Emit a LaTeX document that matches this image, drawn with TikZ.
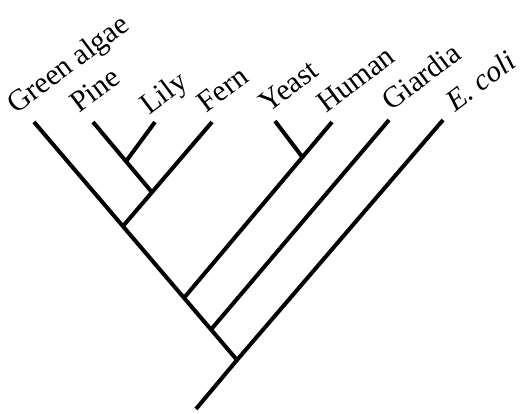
\documentclass[tikz,border=0pt]{standalone}
\usepackage{fontspec}
\setmainfont{Liberation Serif}
\usetikzlibrary{calc}
\begin{document}
\begin{tikzpicture}[x=1pt,y=-1pt,
  branch/.style={line width=4pt},
  taxon/.style={anchor=base west, inner sep=0pt, rotate=37, font=\fontsize{30}{32}\selectfont}]
\useasboundingbox (0,0) rectangle (522,413);
% tips and joints
\coordinate (tGA) at (34,122);
\coordinate (R) at (237,360);
\coordinate (rEnd) at (196,409);
\coordinate (jGA) at ($(tGA)!0.438!(R)$);
\coordinate (jYH) at ($(tGA)!0.739!(R)$);
\coordinate (jG) at ($(tGA)!0.872!(R)$);
\coordinate (tFern) at (212,122);
\coordinate (jPLF) at ($(jGA)!0.326!(tFern)$);
\coordinate (tPine) at (93,122);
\coordinate (jPL) at ($(tPine)!0.56!(jPLF)$);
\coordinate (tLily) at (155,122);
\coordinate (tHuman) at (332,122);
\coordinate (jYHh) at ($(jYH)!0.80!(tHuman)$);
\coordinate (tYeast) at (275,121);
\coordinate (tGiardia) at (389,120);
\coordinate (tEcoli) at (443,120);
% branches
\draw[branch] (tGA) -- (R);
\draw[branch] (jGA) -- (tFern);
\draw[branch] (tPine) -- (jPLF);
\draw[branch] (jPL) -- (tLily);
\draw[branch] (jYH) -- (tHuman);
\draw[branch] (jYHh) -- (tYeast);
\draw[branch] (jG) -- (tGiardia);
\draw[branch] (rEnd) -- (R) -- (tEcoli);
% labels
\node[taxon] (lGA) at (16,115) {Green algae};
\node[taxon] (lPine) at (79,114) {Pine};
\node[taxon] (lLily) at (149,116) {Lily};
\node[taxon] (lFern) at (206,114) {Fern};
\node[taxon] (lYeast) at (268,114) {Yeast};
\node[taxon] (lHuman) at (326,114) {Human};
\node[taxon] (lGiardia) at (391,112) {Giardia};
\node[taxon] (lEcoli) at (455,113) {\textit{E. coli}};
\end{tikzpicture}
\end{document}
